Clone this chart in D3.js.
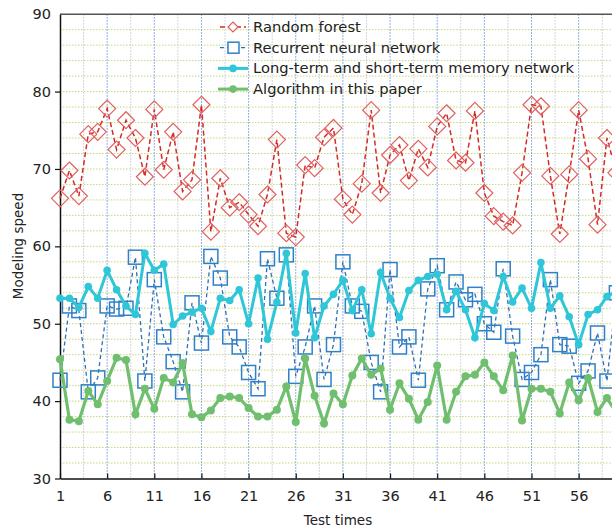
<!DOCTYPE html>
<html>
<head>
<meta charset="utf-8">
<script src="https://cdn.jsdelivr.net/npm/d3@7.9.0/dist/d3.min.js"></script>
<style>
  body { margin: 0; background: #fff; }
  svg { display: block; font-family: "DejaVu Sans", sans-serif; }
</style>
</head>
<body>
<svg id="chart" width="612" height="530"></svg>
<script>
// test times 1..60 (chart is cut at the right edge)
const testTimes = d3.range(1, 61);

const randomForest = [66.2, 69.8, 66.5, 74.5, 74.8, 77.8, 72.5, 76.3, 74.0, 69.0,
  77.7, 69.9, 74.8, 67.1, 68.6, 78.3, 61.9, 68.8, 65.0, 65.7,
  64.1, 62.6, 66.7, 73.8, 61.7, 61.2, 70.5, 70.1, 74.1, 75.3,
  66.1, 64.1, 68.1, 77.6, 66.9, 71.8, 73.1, 68.5, 72.6, 70.2,
  75.5, 77.2, 71.1, 70.8, 77.5, 66.9, 63.9, 63.2, 62.7, 69.5,
  78.3, 78.1, 69.1, 61.6, 69.3, 77.6, 71.3, 62.8, 74.0, 69.5];

const rnn = [42.7, 52.3, 51.7, 41.2, 43.0, 52.3, 51.9, 52.0, 58.6, 42.6,
  55.7, 48.3, 45.1, 41.2, 52.7, 47.5, 58.7, 55.9, 48.3, 47.0,
  43.7, 41.6, 58.4, 53.3, 58.9, 43.2, 47.0, 52.3, 42.8, 47.3,
  58.0, 52.3, 51.6, 45.0, 41.2, 57.0, 47.0, 48.3, 42.7, 54.5,
  57.5, 51.8, 55.4, 53.1, 53.8, 50.0, 48.9, 57.1, 48.4, 42.8,
  43.7, 46.0, 55.7, 47.3, 47.1, 42.3, 43.9, 48.8, 42.6, 54.0];

const lstm = [53.3, 53.3, 52.1, 54.8, 53.3, 56.9, 54.4, 52.3, 51.2, 59.1,
  56.9, 57.7, 49.9, 51.0, 51.5, 52.0, 49.0, 53.3, 53.0, 54.4,
  50.0, 55.9, 48.0, 52.8, 59.1, 48.8, 56.5, 48.2, 52.3, 53.8,
  55.6, 51.7, 54.4, 48.7, 56.6, 53.3, 50.8, 54.3, 55.6, 56.1,
  56.4, 51.8, 54.2, 51.8, 48.2, 52.6, 51.7, 56.1, 52.8, 54.6,
  52.0, 57.9, 52.0, 53.6, 50.9, 47.3, 51.2, 51.8, 53.5, 54.2];

const ours = [45.4, 37.6, 37.4, 41.3, 39.6, 42.6, 45.6, 45.3, 38.3, 41.6,
  39.0, 43.0, 42.4, 44.9, 38.3, 37.9, 38.8, 40.4, 40.6, 40.4,
  39.1, 38.0, 38.0, 38.9, 41.9, 37.3, 45.5, 40.7, 37.1, 41.0,
  39.6, 43.3, 45.5, 43.4, 44.2, 38.9, 42.3, 40.3, 37.6, 39.9,
  44.6, 37.6, 41.2, 43.2, 43.4, 45.0, 43.2, 41.4, 45.9, 37.5,
  41.6, 41.6, 41.2, 38.4, 42.4, 40.1, 43.0, 38.6, 40.4, 38.5];

const seriesNames = ["Random forest", "Recurrent neural network",
  "Long-term and short-term memory network", "Algorithm in this paper"];
const xTicks = d3.range(1, 61, 5);
const yTicks = [30, 40, 50, 60, 70, 80, 90];

const svg = d3.select("#chart");
const plotLeft = 60, plotTop = 14.2, plotBottom = 478.5;

// x runs past the picture edge, like the cropped original
const x = d3.scaleLinear().domain([1, 62]).range([plotLeft, plotLeft + 61 * 9.43]);
const y = d3.scaleLinear().domain([30, 90]).range([plotBottom, plotTop]);
const plotRight = x(62);

// grid
const grid = svg.append("g");
grid.selectAll(".hg").data(d3.range(32, 90, 2)).join("line")
  .attr("x1", plotLeft).attr("x2", plotRight)
  .attr("y1", d => y(d)).attr("y2", d => y(d))
  .attr("stroke", "#c9d77a").attr("stroke-width", 1).attr("stroke-dasharray", "1.5,1.5");
grid.selectAll(".vm").data(d3.range(3.5, 62, 5)).join("line")
  .attr("x1", d => x(d)).attr("x2", d => x(d))
  .attr("y1", plotTop).attr("y2", plotBottom)
  .attr("stroke", "#c4c8d0").attr("stroke-width", 1).attr("stroke-dasharray", "1.5,1.5");
grid.selectAll(".vM").data(xTicks.slice(1)).join("line")
  .attr("x1", d => x(d)).attr("x2", d => x(d))
  .attr("y1", plotTop).attr("y2", plotBottom)
  .attr("stroke", "#6f95d8").attr("stroke-width", 1).attr("stroke-dasharray", "1.5,1.5");

// frame
svg.append("line").attr("x1", plotLeft).attr("x2", plotRight).attr("y1", plotTop).attr("y2", plotTop)
  .attr("stroke", "#555").attr("stroke-width", 1.5);

// axes
const xAxis = svg.append("g").attr("transform", `translate(0,${plotBottom})`)
  .call(d3.axisBottom(x).tickValues(xTicks).tickSizeInner(-5).tickSizeOuter(0).tickPadding(12));
const yAxis = svg.append("g").attr("transform", `translate(${plotLeft},0)`)
  .call(d3.axisLeft(y).tickValues(yTicks).tickSizeInner(5).tickSizeOuter(0).tickPadding(4));
[xAxis, yAxis].forEach(a => {
  a.select(".domain").attr("stroke", "#111").attr("stroke-width", 1.5);
  a.selectAll(".tick line").attr("stroke", "#111").attr("stroke-width", 1.2);
  a.selectAll("text").attr("font-size", 14.5).attr("fill", "#222")
    .attr("font-family", "DejaVu Sans, sans-serif");
});
yAxis.selectAll(".tick").filter(d => d === 90).select("line").remove();

svg.append("text").attr("x", 338).attr("y", 525).attr("text-anchor", "middle")
  .attr("font-size", 13.5).attr("fill", "#222").text("Test times");
svg.append("text").attr("transform", "translate(23,246) rotate(-90)")
  .attr("text-anchor", "middle").attr("font-size", 13.5).attr("fill", "#222").text("Modeling speed");

const line = d3.line().x((d, i) => x(testTimes[i])).y(d => y(d));

// random forest: dashed red with hollow diamonds
svg.append("path").datum(randomForest).attr("d", line).attr("fill", "none")
  .attr("stroke", "#d42a2a").attr("stroke-width", 1.5).attr("stroke-dasharray", "5,3");
svg.append("g").selectAll("path").data(randomForest).join("path")
  .attr("transform", (d, i) => `translate(${x(testTimes[i])},${y(d)})`)
  .attr("d", "M0,-8.5L8.5,0L0,8.5L-8.5,0Z")
  .attr("fill", "none").attr("stroke", "#e06060").attr("stroke-width", 1.2);

// recurrent neural network: dashed blue with hollow squares
svg.append("path").datum(rnn).attr("d", line).attr("fill", "none")
  .attr("stroke", "#2e6fb8").attr("stroke-width", 1.3).attr("stroke-dasharray", "4,3");
svg.append("g").selectAll("rect").data(rnn).join("rect")
  .attr("x", (d, i) => x(testTimes[i]) - 7).attr("y", d => y(d) - 7)
  .attr("width", 14).attr("height", 14)
  .attr("fill", "none").attr("stroke", "#2f80c8").attr("stroke-width", 1.5);

// lstm: solid cyan with dots
svg.append("path").datum(lstm).attr("d", line).attr("fill", "none")
  .attr("stroke", "#2fc6d8").attr("stroke-width", 3);
svg.append("g").selectAll("circle").data(lstm).join("circle")
  .attr("cx", (d, i) => x(testTimes[i])).attr("cy", d => y(d)).attr("r", 3.8)
  .attr("fill", "#2fc6d8");

// this paper: solid green with dots
svg.append("path").datum(ours).attr("d", line).attr("fill", "none")
  .attr("stroke", "#6fbf6f").attr("stroke-width", 3.2);
svg.append("g").selectAll("circle").data(ours).join("circle")
  .attr("cx", (d, i) => x(testTimes[i])).attr("cy", d => y(d)).attr("r", 4)
  .attr("fill", "#6fbf6f");

// legend
const lg = svg.append("g").attr("transform", "translate(218,27)");
const rowH = 20.7;
seriesNames.forEach((name, i) => {
  const g = lg.append("g").attr("transform", `translate(0,${i * rowH})`);
  if (i === 0) {
    g.append("line").attr("x1", 2).attr("x2", 28).attr("stroke", "#d42a2a")
      .attr("stroke-width", 1.5).attr("stroke-dasharray", "5,3");
    g.append("path").attr("transform", "translate(15,0)").attr("d", "M0,-5L5,0L0,5L-5,0Z")
      .attr("fill", "#fff").attr("stroke", "#e06060").attr("stroke-width", 1.2);
  } else if (i === 1) {
    g.append("line").attr("x1", 2).attr("x2", 28).attr("stroke", "#2e6fb8")
      .attr("stroke-width", 1.3).attr("stroke-dasharray", "4,3");
    g.append("rect").attr("x", 10).attr("y", -5.5).attr("width", 11).attr("height", 11)
      .attr("fill", "#fff").attr("stroke", "#2f80c8").attr("stroke-width", 1.5);
  } else {
    const c = i === 2 ? "#2fc6d8" : "#6fbf6f";
    g.append("line").attr("x1", 0).attr("x2", 30).attr("stroke", c).attr("stroke-width", 3);
    g.append("circle").attr("cx", 15).attr("r", 3.8).attr("fill", c);
  }
  g.append("text").attr("x", 35).attr("y", 5).attr("font-size", 14.7).attr("fill", "#222").text(name);
});
</script>
</body>
</html>
